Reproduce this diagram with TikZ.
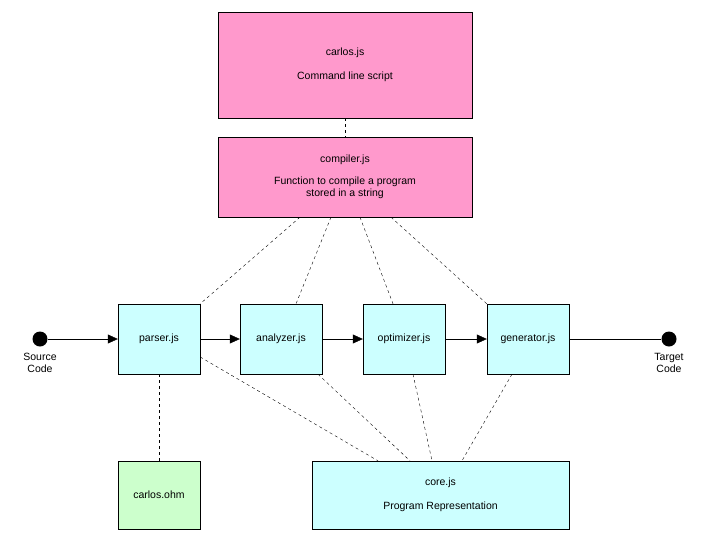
\documentclass[tikz,border=0pt]{standalone}
\usepackage{fontspec}
\setmainfont{Liberation Sans}
\usetikzlibrary{arrows.meta}
\definecolor{pinkfill}{HTML}{FF99CC}
\definecolor{cyanfill}{HTML}{CCFFFF}
\definecolor{greenfill}{HTML}{CCFFCC}
\tikzset{
  module/.style={draw,fill=cyanfill,inner sep=0pt,align=center,font=\fontsize{10.5}{12.5}\selectfont},
  dep/.style={dashed},
  flow/.style={-{Triangle[length=10pt,width=9pt]}},
  term/.style={circle,fill=black,inner sep=0pt,minimum size=15pt}
}
\begin{document}
\begin{tikzpicture}[x=1pt,y=-1pt]
  \useasboundingbox (0,0) rectangle (709,546);
  % boxes
  \node[module,fill=pinkfill,minimum width=254pt,minimum height=106pt] (carlos) at (345,65) {carlos.js\\[11pt]Command line script};
  \node[module,fill=pinkfill,minimum width=254pt,minimum height=80pt] (compiler) at (345,177) {compiler.js\\[9pt]Function to compile a program\\stored in a string};
  \node[module,minimum width=82pt,minimum height=70pt] (parser) at (159,339) {parser.js};
  \node[module,minimum width=82pt,minimum height=70pt] (analyzer) at (281,339) {analyzer.js};
  \node[module,minimum width=82pt,minimum height=70pt] (optimizer) at (404,339) {optimizer.js};
  \node[module,minimum width=82pt,minimum height=70pt] (generator) at (528,339) {generator.js};
  \node[module,fill=greenfill,minimum width=82pt,minimum height=68pt] (ohm) at (159,495) {carlos.ohm};
  \node[module,minimum width=257pt,minimum height=68pt] (core) at (440.5,495) {core.js\\[11pt]Program Representation};
  % ends
  \node[term] (source) at (40,339) {};
  \node[term] (target) at (669,339) {};
  \node[align=center,font=\fontsize{10.5}{12}\selectfont,below=3pt] at (source.south) {Source\\Code};
  \node[align=center,font=\fontsize{10.5}{12}\selectfont,below=3pt] at (target.south) {Target\\Code};
  % flow
  \draw[flow] (source) -- (parser);
  \draw[flow] (parser) -- (analyzer);
  \draw[flow] (analyzer) -- (optimizer);
  \draw[flow] (optimizer) -- (generator);
  \draw (generator) -- (target);
  % dependencies
  \draw[dep] (carlos) -- (compiler);
  \draw[dep] (compiler.south -| 300,0) -- (parser.north east);
  \draw[dep] (compiler.south -| 331,0) -- (analyzer.north -| 296,0);
  \draw[dep] (compiler.south -| 360,0) -- (optimizer.north -| 393,0);
  \draw[dep] (compiler.south -| 391,0) -- (generator.north west);
  \draw[dep] (parser) -- (ohm);
  \draw[dep] (parser.east |- 0,357) -- (core.north -| 378,0);
  \draw[dep] (analyzer.south -| 318,0) -- (core.north -| 410,0);
  \draw[dep] (optimizer.south -| 413,0) -- (core.north -| 432,0);
  \draw[dep] (generator.south -| 512,0) -- (core.north -| 462,0);
\end{tikzpicture}
\end{document}
